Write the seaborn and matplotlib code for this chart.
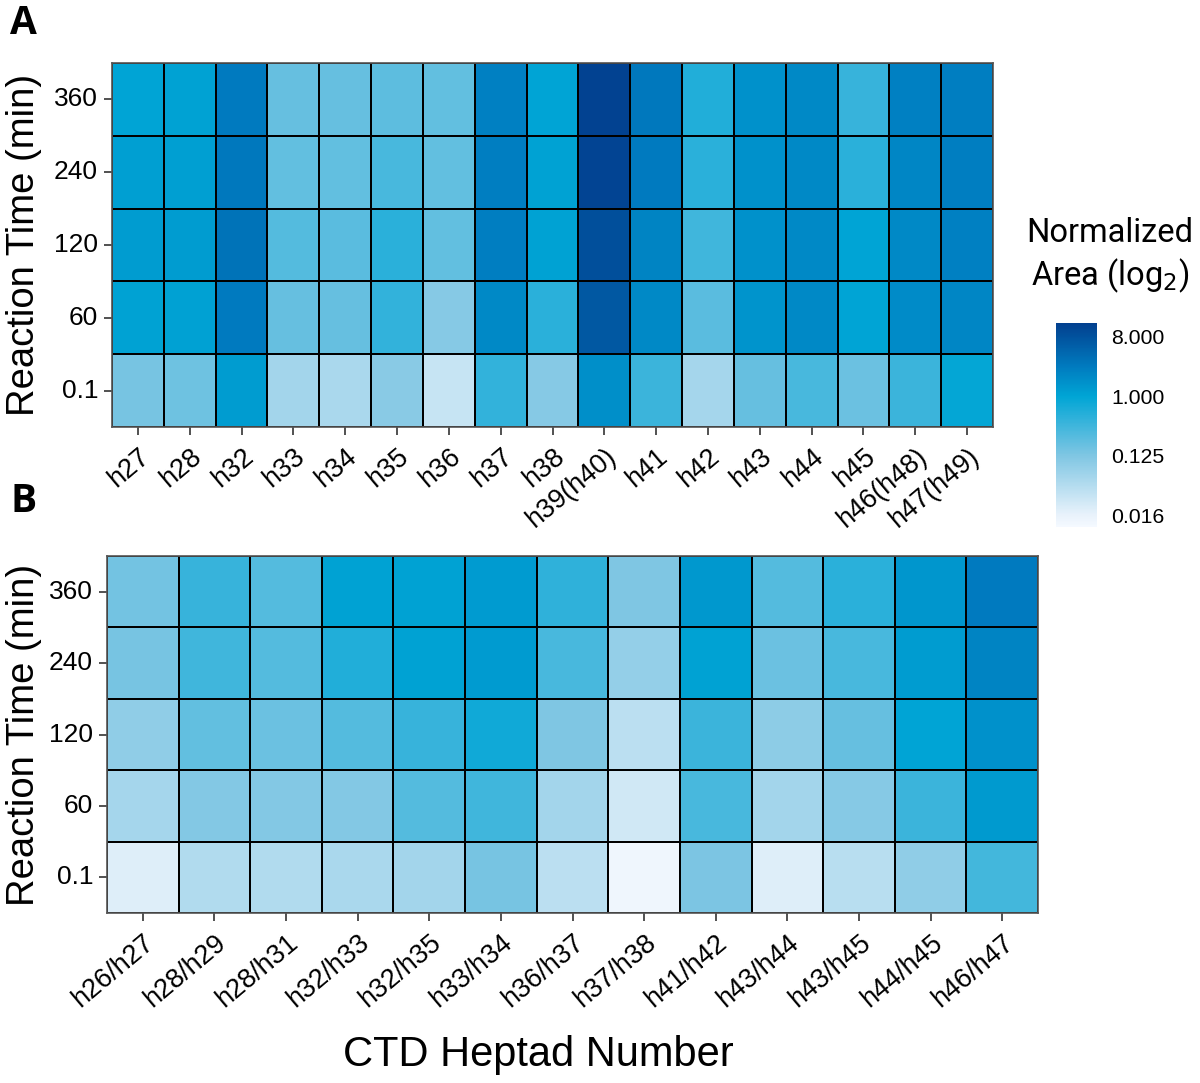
import numpy as np
import pandas as pd
import matplotlib
matplotlib.use("Agg")
import matplotlib.pyplot as plt
import seaborn as sns
from matplotlib.colors import LinearSegmentedColormap

sns.set_theme(style="white")
plt.rcParams['font.family'] = ['Liberation Sans', 'DejaVu Sans']
plt.rcParams['text.color'] = 'black'
plt.rcParams['xtick.labelcolor'] = 'black'
plt.rcParams['ytick.labelcolor'] = 'black'
plt.rcParams['axes.labelcolor'] = 'black'

# ---------------- data (log2 of normalized area) ----------------
times = ["360", "240", "120", "60", "0.1"]

heptads_a = ["h27", "h28", "h32", "h33", "h34", "h35", "h36", "h37", "h38",
             "h39(h40)", "h41", "h42", "h43", "h44", "h45", "h46(h48)", "h47(h49)"]
a_360 = [0.0, 0.1, 1.5, -2.4, -2.4, -2.2, -2.3, 1.3, 0.0, 3.6, 1.6, -0.8, 0.7, 1.0, -1.3, 1.3, 1.4]
a_240 = [0.2, 0.2, 1.6, -2.3, -2.3, -1.7, -2.3, 1.4, 0.1, 3.5, 1.5, -1.0, 0.7, 1.0, -1.0, 1.1, 1.4]
a_120 = [0.3, 0.3, 1.8, -2.0, -2.1, -1.0, -2.3, 1.4, 0.1, 3.1, 1.2, -1.5, 0.7, 1.0, 0.0, 1.0, 1.3]
a_60 = [0.1, 0.15, 1.5, -2.4, -2.4, -1.2, -3.2, 1.0, -1.0, 2.8, 1.0, -2.1, 0.6, 1.0, 0.0, 0.9, 1.1]
a_01 = [-2.8, -2.6, 0.3, -4.0, -4.2, -3.3, -5.0, -1.2, -3.2, 0.8, -1.4, -4.1, -2.4, -1.7, -2.5, -1.4, -0.1]

pairs_b = ["h26/h27", "h28/h29", "h28/h31", "h32/h33", "h32/h35", "h33/h34", "h36/h37",
           "h37/h38", "h41/h42", "h43/h44", "h43/h45", "h44/h45", "h46/h47"]
b_360 = [-2.7, -1.3, -2.0, 0.1, 0.1, 0.35, -1.1, -3.0, 0.45, -2.0, -1.0, 0.55, 1.5]
b_240 = [-2.8, -1.5, -2.0, -0.8, 0.1, 0.35, -1.7, -3.6, 0.1, -2.5, -1.7, 0.3, 1.2]
b_120 = [-3.5, -2.3, -2.5, -2.0, -1.3, -0.4, -3.0, -4.7, -1.4, -3.4, -2.4, 0.0, 0.7]
b_60 = [-4.1, -3.1, -3.1, -3.1, -2.0, -1.5, -4.0, -5.3, -1.7, -4.0, -3.2, -1.4, 0.4]
b_01 = [-5.7, -4.4, -4.4, -4.2, -4.0, -2.8, -4.7, -6.3, -2.9, -5.7, -4.6, -3.5, -1.6]

cbar_ticks = [-6, -3, 0, 3]
cbar_labels = ["0.016", "0.125", "1.000", "8.000"]

df_a = pd.DataFrame([a_360, a_240, a_120, a_60, a_01], index=times, columns=heptads_a)
df_b = pd.DataFrame([b_360, b_240, b_120, b_60, b_01], index=times, columns=pairs_b)

vmin, vmax = -6.6, 3.7
nodes = [(-6.6, "#f5f9ff"), (-6.0, "#e8f2fb"), (-3.0, "#7fc6e3"),
         (0.0, "#00a5d5"), (1.5, "#007bbf"), (3.7, "#02408f")]
cmap = LinearSegmentedColormap.from_list(
    "cb", [((v - vmin) / (vmax - vmin), c) for v, c in nodes])

W, H = 1200, 1083
fig = plt.figure(figsize=(W / 100, H / 100), dpi=100)

def px_axes(x0, y0, x1, y1):
    return fig.add_axes([x0 / W, 1 - y1 / H, (x1 - x0) / W, (y1 - y0) / H])

ax_a = px_axes(112, 63, 993, 427)
ax_b = px_axes(107, 556, 1038, 913)
cax = px_axes(1056, 323, 1097, 527)

sns.heatmap(df_a, ax=ax_a, cmap=cmap, vmin=vmin, vmax=vmax, linewidths=1.2,
            linecolor="black", cbar=True, cbar_ax=cax)
sns.heatmap(df_b, ax=ax_b, cmap=cmap, vmin=vmin, vmax=vmax, linewidths=1.2,
            linecolor="black", cbar=False)

for ax in (ax_a, ax_b):
    for s in ax.spines.values():
        s.set_visible(True)
        s.set_color("#555555")
        s.set_linewidth(1.2)
    ax.tick_params(axis="both", which="both", length=6, width=1.2, color="#333333",
                   bottom=True, left=True, pad=4, labelcolor="black")
    ax.tick_params(axis="y", labelsize=19, rotation=0)
    ax.tick_params(axis="x", labelsize=19.5, pad=6)
    for lab in ax.get_xticklabels():
        lab.set_rotation(40)
        lab.set_ha("right")
        lab.set_rotation_mode("anchor")
    ax.set_ylabel("")
    ax.set_xlabel("")

fig.text(24 / W, 1 - 245 / H, "Reaction Time (min)", rotation=90, fontsize=27.5,
         ha="center", va="center", color="black")
fig.text(24 / W, 1 - 735 / H, "Reaction Time (min)", rotation=90, fontsize=27.5,
         ha="center", va="center", color="black")
fig.text(538 / W, 1 - 1055 / H, "CTD Heptad Number", fontsize=30, ha="center",
         va="center", color="black")

cb = ax_a.collections[0].colorbar
cb.outline.set_visible(False)
cb.set_ticks(cbar_ticks)
cb.set_ticklabels(cbar_labels)
cax.tick_params(axis="y", left=True, right=True, labelleft=False, labelright=True,
                direction="in", color="white", length=7, width=1, labelsize=15.3, pad=10,
                labelcolor="black")
fig.text(1110 / W, 1 - 256 / H, "Normalized\nArea (log$_2$)", ha="center", va="center",
         fontsize=23.5, family=["Roboto", "DejaVu Sans"], linespacing=1.25, color="black")

fig.text(10 / W, 1 - 24 / H, "A", fontsize=28, fontweight="bold", va="center", ha="left",
         family=["Open Sans", "DejaVu Sans"], color="black")
fig.text(10 / W, 1 - 502 / H, "B", fontsize=28, fontweight="bold", va="center", ha="left",
         family=["Open Sans", "DejaVu Sans"], color="black")

fig.savefig("out.png", dpi=100)
